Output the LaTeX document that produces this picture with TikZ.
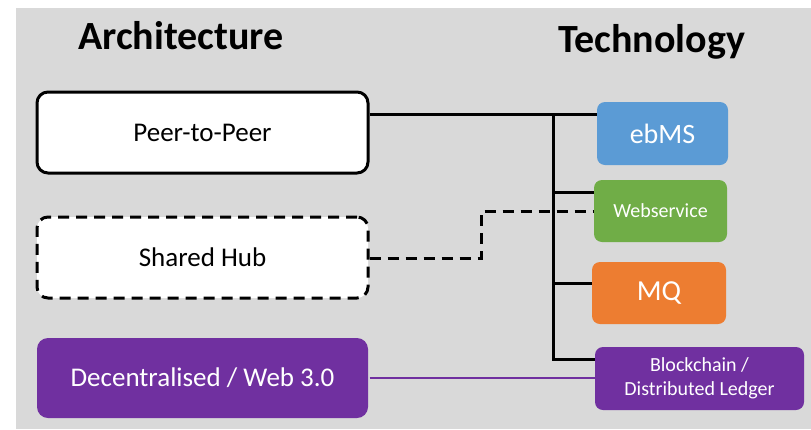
\documentclass[tikz,border=0pt]{standalone}
\usepackage{fontspec}
\setmainfont{Carlito}
\definecolor{bggray}{HTML}{D9D9D9}
\definecolor{ebblue}{HTML}{5B9BD5}
\definecolor{wsgreen}{HTML}{70AD47}
\definecolor{mqorange}{HTML}{ED7D31}
\definecolor{bcpurple}{HTML}{7030A0}
\begin{document}
\begin{tikzpicture}[x=1pt,y=-1pt,
  title/.style={font=\fontsize{40}{44}\selectfont\bfseries, inner sep=0pt, anchor=base},
  archbox/.style={rounded corners=11pt, line width=3pt, minimum width=331pt, minimum height=81pt, inner sep=0pt, align=center, font=\fontsize{27}{31}\selectfont},
  techbox/.style={rounded corners=8pt, inner sep=0pt, text=white, align=center},
  conn/.style={line width=3pt},
  dashconn/.style={line width=3pt, dash pattern=on 11pt off 7pt}
]
\useasboundingbox (0,0) rectangle (811,429);
\fill[bggray] (16,8) rectangle (811,429);

\node[title] (arch) at (181,49) {Architecture};
\node[title] (tech) at (651.5,52) {Technology};

\node[archbox, draw=black, fill=white] (peer) at (202.5,132.5) {Peer-to-Peer};
\node[archbox, draw=black, fill=white, dash pattern=on 11pt off 7pt] (shared) at (202.5,257.5) {Shared Hub};
\node[archbox, fill=bcpurple, text=white, minimum height=80pt] (dec) at (202.5,378) {Decentralised / Web 3.0};

\node[techbox, fill=ebblue, minimum width=131pt, minimum height=63pt, font=\fontsize{28}{32}\selectfont] (ebms) at (662.5,133.5) {ebMS};
\node[techbox, fill=wsgreen, minimum width=133pt, minimum height=62pt, font=\fontsize{20}{24}\selectfont] (web) at (660.5,211) {Webservice};
\node[techbox, fill=mqorange, minimum width=134pt, minimum height=62pt, font=\fontsize{29}{33}\selectfont] (mq) at (659,293) {MQ};
\node[techbox, fill=bcpurple, minimum width=209pt, minimum height=63pt, font=\fontsize{20}{23.5}\selectfont] (block) at (699.5,378.5) {Blockchain /\\Distributed Ledger};

\coordinate (ttop) at (553,114);
\coordinate (tws) at (553,192);
\coordinate (tmq) at (553,283);
\coordinate (tbot) at (553,359);
\coordinate (d1) at (481,258);
\coordinate (d2) at (481,211);

\draw[conn] (peer.east |- ttop) -- (ebms.west |- ttop);
\draw[conn] (ttop) -- (tbot) -- (block.west |- tbot);
\draw[conn] (tws) -- (web.west |- tws);
\draw[conn] (tmq) -- (mq.west |- tmq);
\draw[dashconn] (shared.east |- d1) -- (d1) -- (d2) -- (web.west |- d2);
\draw[bcpurple, line width=2pt] (dec.east) -- (block.west |- dec.east);
\end{tikzpicture}
\end{document}
